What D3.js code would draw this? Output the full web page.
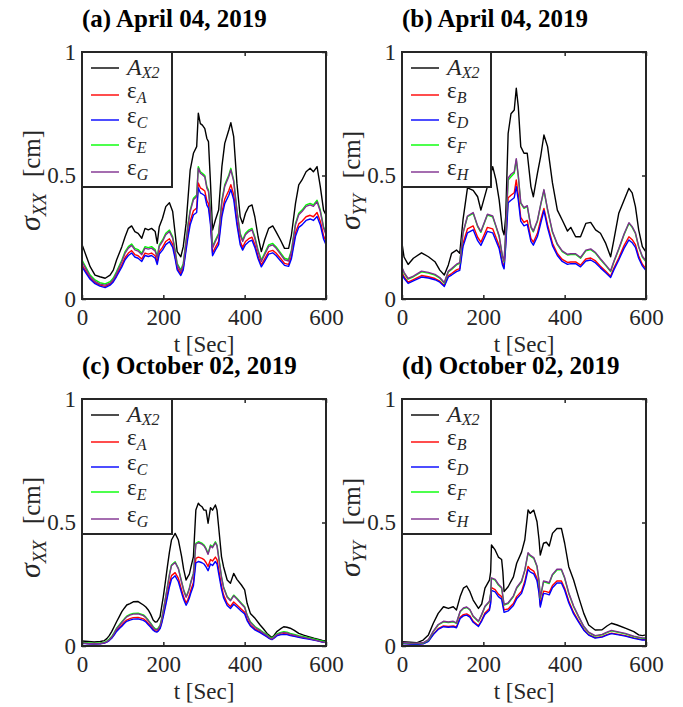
<!DOCTYPE html>
<html>
<head>
<meta charset="utf-8">
<script src="https://cdn.jsdelivr.net/npm/d3@7"></script>
<style>
  body { margin: 0; background: #fff; }
  svg { display: block; }
  text { font-family: "Liberation Serif", "Times New Roman", Times, serif; }
</style>
</head>
<body>
<svg id="fig" width="683" height="707"></svg>
<script>
// ---------- shared axis ticks ----------
const xTicks = [0, 200, 400, 600];
const yTicks = [0, 0.5, 1];
const yTickLabels = ["0", "0.5", "1"];

// ---------- (a) April 04, 2019 — sigma_XX ----------
const tA = [0, 2, 11, 20, 32, 44, 57, 69, 77, 85, 98, 106, 114, 122, 130, 138, 147, 155, 163, 171,
  180, 185, 190, 198, 206, 215, 223, 229, 234, 243, 249, 256, 261, 266, 274, 282, 286, 291, 296, 302,
  307, 311, 316, 321, 328, 336, 344, 351, 361, 366, 373, 381, 389, 395, 402, 410, 418, 425, 433, 441,
  449, 459, 469, 477, 488, 498, 508, 515, 525, 533, 541, 551, 561, 569, 578, 586, 594, 600];
const aAX2 = [0.22, 0.212, 0.171, 0.131, 0.097, 0.090, 0.084, 0.097, 0.117, 0.158,
  0.212, 0.252, 0.286, 0.296, 0.273, 0.266, 0.246, 0.286, 0.280, 0.286,
  0.273, 0.225, 0.293, 0.327, 0.374, 0.390, 0.354, 0.266, 0.192, 0.171,
  0.212, 0.306, 0.414, 0.522, 0.590, 0.617, 0.752, 0.71, 0.704, 0.69,
  0.65, 0.637, 0.468, 0.279, 0.32, 0.36, 0.536, 0.630, 0.684, 0.714,
  0.657, 0.468, 0.333, 0.306, 0.347, 0.374, 0.381, 0.333, 0.252, 0.192,
  0.239, 0.286, 0.296, 0.273, 0.239, 0.205, 0.205, 0.259, 0.387, 0.462,
  0.482, 0.515, 0.529, 0.515, 0.536, 0.455, 0.360, 0.340];
const aEpsA = [0.14, 0.132, 0.108, 0.085, 0.066, 0.056, 0.051, 0.06, 0.074, 0.097,
  0.138, 0.168, 0.186, 0.196, 0.18, 0.175, 0.162, 0.186, 0.182, 0.186,
  0.175, 0.15, 0.192, 0.209, 0.233, 0.244, 0.221, 0.173, 0.126, 0.102,
  0.126, 0.209, 0.268, 0.315, 0.357, 0.368, 0.47, 0.45, 0.445, 0.437,
  0.398, 0.386, 0.315, 0.186, 0.209, 0.233, 0.35, 0.404, 0.439, 0.463,
  0.422, 0.315, 0.233, 0.209, 0.233, 0.244, 0.25, 0.221, 0.173, 0.138,
  0.162, 0.192, 0.197, 0.186, 0.165, 0.144, 0.14, 0.173, 0.268, 0.304,
  0.315, 0.333, 0.339, 0.333, 0.35, 0.315, 0.256, 0.233];
const aEpsC = [0.133, 0.125, 0.102, 0.08, 0.062, 0.052, 0.046, 0.056, 0.069, 0.091,
  0.13, 0.159, 0.176, 0.186, 0.17, 0.165, 0.152, 0.176, 0.172, 0.176,
  0.165, 0.14, 0.182, 0.198, 0.22, 0.232, 0.209, 0.163, 0.118, 0.095,
  0.118, 0.198, 0.254, 0.3, 0.34, 0.35, 0.45, 0.43, 0.425, 0.418,
  0.38, 0.368, 0.3, 0.175, 0.198, 0.22, 0.334, 0.386, 0.42, 0.443,
  0.403, 0.3, 0.22, 0.198, 0.22, 0.232, 0.238, 0.209, 0.163, 0.13,
  0.152, 0.182, 0.187, 0.176, 0.155, 0.136, 0.132, 0.163, 0.254, 0.29,
  0.3, 0.318, 0.324, 0.318, 0.334, 0.3, 0.243, 0.22];
const aEpsE = [0.16, 0.151, 0.124, 0.097, 0.077, 0.066, 0.061, 0.07, 0.085, 0.111,
  0.158, 0.192, 0.212, 0.223, 0.205, 0.20, 0.185, 0.212, 0.208, 0.212,
  0.20, 0.171, 0.219, 0.239, 0.266, 0.279, 0.252, 0.198, 0.144, 0.117,
  0.144, 0.239, 0.306, 0.36, 0.408, 0.421, 0.536, 0.515, 0.509, 0.50,
  0.455, 0.441, 0.36, 0.212, 0.239, 0.266, 0.40, 0.462, 0.502, 0.529,
  0.482, 0.36, 0.266, 0.239, 0.266, 0.279, 0.286, 0.252, 0.198, 0.158,
  0.185, 0.219, 0.225, 0.212, 0.188, 0.165, 0.16, 0.198, 0.306, 0.347,
  0.36, 0.381, 0.387, 0.381, 0.40, 0.36, 0.293, 0.266];
const aEpsG = [0.154, 0.145, 0.118, 0.091, 0.071, 0.06, 0.056, 0.064, 0.079, 0.105,
  0.152, 0.186, 0.206, 0.217, 0.199, 0.194, 0.179, 0.206, 0.202, 0.206,
  0.194, 0.165, 0.213, 0.233, 0.26, 0.273, 0.246, 0.192, 0.138, 0.111,
  0.138, 0.233, 0.3, 0.354, 0.402, 0.415, 0.53, 0.509, 0.503, 0.494,
  0.449, 0.435, 0.354, 0.206, 0.233, 0.26, 0.394, 0.456, 0.496, 0.523,
  0.476, 0.354, 0.26, 0.233, 0.26, 0.273, 0.28, 0.246, 0.192, 0.152,
  0.179, 0.213, 0.219, 0.206, 0.182, 0.159, 0.154, 0.192, 0.3, 0.341,
  0.354, 0.375, 0.381, 0.375, 0.394, 0.354, 0.287, 0.26];

// ---------- (b) April 04, 2019 — sigma_YY ----------
const tB = [0, 5, 15, 28, 48, 65, 81, 93, 104, 114, 122, 134, 142, 150, 161, 175, 186, 194, 210, 223,
  231, 239, 247, 251, 255, 261, 268, 276, 281, 286, 292, 300, 308, 317, 323, 333, 341, 349, 358, 370,
  382, 394, 407, 415, 427, 439, 452, 464, 476, 488, 501, 513, 521, 533, 546, 558, 566, 574, 582, 591, 600];
const bAX2 = [0.225, 0.17, 0.14, 0.165, 0.187, 0.171, 0.151, 0.117, 0.097, 0.138,
  0.185, 0.198, 0.185, 0.32, 0.45, 0.44, 0.414, 0.36, 0.455, 0.536,
  0.482, 0.40, 0.28, 0.26, 0.333, 0.67, 0.75, 0.765, 0.853, 0.778,
  0.617, 0.59, 0.59, 0.455, 0.414, 0.509, 0.577, 0.664, 0.617, 0.47,
  0.36, 0.32, 0.275, 0.29, 0.252, 0.252, 0.306, 0.31, 0.28, 0.266,
  0.225, 0.171, 0.239, 0.347, 0.40, 0.448, 0.43, 0.374, 0.28, 0.212, 0.19];
const bEpsB = [0.108, 0.09, 0.068, 0.078, 0.095, 0.09, 0.083, 0.072, 0.055, 0.095,
  0.103, 0.118, 0.123, 0.225, 0.284, 0.296, 0.25, 0.23, 0.29, 0.284,
  0.25, 0.215, 0.146, 0.13, 0.226, 0.41, 0.42, 0.43, 0.482, 0.42,
  0.33, 0.31, 0.318, 0.245, 0.23, 0.266, 0.32, 0.367, 0.3, 0.226,
  0.184, 0.16, 0.148, 0.15, 0.15, 0.137, 0.162, 0.166, 0.154, 0.133,
  0.112, 0.092, 0.125, 0.166, 0.216, 0.252, 0.24, 0.22, 0.174, 0.141, 0.122];
const bEpsD = [0.1, 0.084, 0.063, 0.073, 0.089, 0.085, 0.078, 0.068, 0.051, 0.089,
  0.097, 0.111, 0.116, 0.212, 0.268, 0.28, 0.236, 0.217, 0.274, 0.268,
  0.236, 0.203, 0.138, 0.122, 0.213, 0.39, 0.4, 0.41, 0.455, 0.4,
  0.315, 0.296, 0.302, 0.233, 0.218, 0.253, 0.305, 0.358, 0.288, 0.216,
  0.176, 0.152, 0.14, 0.143, 0.143, 0.13, 0.154, 0.158, 0.146, 0.126,
  0.106, 0.087, 0.118, 0.158, 0.205, 0.239, 0.228, 0.209, 0.165, 0.134, 0.115];
const bEpsF = [0.125, 0.105, 0.08, 0.09, 0.11, 0.105, 0.097, 0.084, 0.064, 0.11,
  0.12, 0.138, 0.144, 0.266, 0.333, 0.347, 0.293, 0.27, 0.34, 0.333,
  0.293, 0.252, 0.171, 0.151, 0.266, 0.482, 0.495, 0.509, 0.563, 0.495,
  0.387, 0.367, 0.375, 0.29, 0.272, 0.315, 0.38, 0.44, 0.36, 0.27,
  0.22, 0.192, 0.178, 0.18, 0.18, 0.165, 0.195, 0.2, 0.185, 0.16,
  0.135, 0.111, 0.15, 0.2, 0.26, 0.306, 0.29, 0.265, 0.21, 0.17, 0.151];
const bEpsH = [0.128, 0.108, 0.083, 0.093, 0.113, 0.108, 0.1, 0.087, 0.067, 0.113,
  0.123, 0.141, 0.147, 0.268, 0.336, 0.35, 0.296, 0.273, 0.343, 0.336,
  0.296, 0.255, 0.174, 0.154, 0.27, 0.49, 0.505, 0.515, 0.568, 0.5,
  0.39, 0.37, 0.378, 0.293, 0.275, 0.318, 0.383, 0.443, 0.363, 0.273,
  0.223, 0.195, 0.181, 0.183, 0.183, 0.168, 0.198, 0.203, 0.188, 0.163,
  0.138, 0.114, 0.153, 0.203, 0.263, 0.309, 0.293, 0.268, 0.213, 0.173, 0.154];

// ---------- (c) October 02, 2019 — sigma_XX ----------
const tC = [0, 15, 30, 45, 55, 61, 67, 73, 79, 85, 92, 98, 104, 110, 118, 126, 138, 151, 157, 163,
  169, 175, 180, 184, 188, 192, 196, 200, 205, 210, 215, 220, 229, 237, 245, 250, 256, 260, 264, 268,
  274, 280, 286, 290, 295, 300, 305, 310, 316, 321, 328, 332, 336, 343, 348, 357, 365, 373, 381, 392,
  400, 406, 414, 426, 438, 446, 455, 461, 467, 473, 479, 487, 496, 504, 512, 522, 533, 545, 557, 570,
  582, 591, 600];
const cAX2 = [0.02, 0.018, 0.016, 0.018, 0.022, 0.03, 0.042, 0.058, 0.078, 0.098,
  0.12, 0.139, 0.153, 0.166, 0.172, 0.179, 0.18, 0.166, 0.158, 0.146,
  0.128, 0.105, 0.097, 0.098, 0.108, 0.119, 0.16, 0.2, 0.26, 0.321,
  0.38, 0.429, 0.456, 0.429, 0.362, 0.31, 0.267, 0.28, 0.291, 0.32,
  0.362, 0.551, 0.578, 0.57, 0.564, 0.55, 0.55, 0.497, 0.56, 0.55,
  0.571, 0.55, 0.483, 0.362, 0.321, 0.267, 0.254, 0.294, 0.27, 0.247,
  0.227, 0.173, 0.132, 0.111, 0.085, 0.07, 0.051, 0.042, 0.034, 0.045,
  0.058, 0.068, 0.078, 0.076, 0.072, 0.063, 0.051, 0.044, 0.038, 0.032,
  0.027, 0.023, 0.02];
const cEpsA = [0.012, 0.01, 0.009, 0.01, 0.013, 0.017, 0.024, 0.033, 0.047, 0.063,
  0.075, 0.085, 0.096, 0.105, 0.111, 0.115, 0.116, 0.11, 0.102, 0.091,
  0.08, 0.068, 0.061, 0.059, 0.064, 0.074, 0.097, 0.127, 0.167, 0.209,
  0.252, 0.285, 0.297, 0.274, 0.226, 0.198, 0.174, 0.187, 0.204, 0.228,
  0.257, 0.355, 0.36, 0.358, 0.355, 0.35, 0.338, 0.322, 0.35, 0.344,
  0.36, 0.35, 0.31, 0.242, 0.207, 0.173, 0.16, 0.178, 0.166, 0.149,
  0.137, 0.109, 0.085, 0.068, 0.057, 0.048, 0.039, 0.032, 0.027, 0.035,
  0.043, 0.047, 0.05, 0.049, 0.044, 0.041, 0.037, 0.033, 0.03, 0.025,
  0.021, 0.017, 0.015];
const cEpsC = [0.011, 0.009, 0.008, 0.009, 0.012, 0.016, 0.022, 0.031, 0.044, 0.059,
  0.071, 0.08, 0.091, 0.1, 0.105, 0.109, 0.11, 0.104, 0.097, 0.086,
  0.076, 0.064, 0.058, 0.056, 0.061, 0.07, 0.092, 0.12, 0.158, 0.198,
  0.239, 0.27, 0.284, 0.26, 0.214, 0.188, 0.165, 0.177, 0.194, 0.216,
  0.244, 0.337, 0.342, 0.34, 0.337, 0.332, 0.32, 0.305, 0.332, 0.326,
  0.342, 0.332, 0.294, 0.23, 0.196, 0.164, 0.152, 0.169, 0.158, 0.141,
  0.13, 0.103, 0.081, 0.064, 0.054, 0.046, 0.037, 0.03, 0.026, 0.033,
  0.041, 0.045, 0.047, 0.046, 0.042, 0.039, 0.035, 0.031, 0.028, 0.024,
  0.02, 0.016, 0.014];
const cEpsE = [0.014, 0.012, 0.01, 0.012, 0.015, 0.02, 0.028, 0.038, 0.054, 0.072,
  0.086, 0.098, 0.11, 0.121, 0.128, 0.132, 0.133, 0.126, 0.117, 0.105,
  0.092, 0.078, 0.07, 0.068, 0.074, 0.085, 0.112, 0.146, 0.192, 0.24,
  0.29, 0.328, 0.341, 0.315, 0.26, 0.228, 0.2, 0.215, 0.235, 0.262,
  0.295, 0.416, 0.422, 0.42, 0.416, 0.409, 0.395, 0.375, 0.409, 0.402,
  0.422, 0.409, 0.362, 0.281, 0.24, 0.2, 0.186, 0.206, 0.193, 0.173,
  0.159, 0.126, 0.098, 0.078, 0.065, 0.055, 0.045, 0.037, 0.031, 0.04,
  0.049, 0.054, 0.058, 0.056, 0.051, 0.047, 0.042, 0.038, 0.034, 0.029,
  0.024, 0.02, 0.017];
const cEpsG = [0.012, 0.01, 0.009, 0.01, 0.013, 0.018, 0.025, 0.035, 0.051, 0.069,
  0.083, 0.095, 0.107, 0.118, 0.125, 0.129, 0.13, 0.123, 0.114, 0.102,
  0.089, 0.075, 0.067, 0.065, 0.071, 0.082, 0.109, 0.143, 0.189, 0.237,
  0.287, 0.325, 0.338, 0.312, 0.257, 0.225, 0.197, 0.212, 0.232, 0.259,
  0.292, 0.412, 0.418, 0.416, 0.412, 0.405, 0.391, 0.371, 0.405, 0.398,
  0.418, 0.405, 0.358, 0.278, 0.237, 0.197, 0.183, 0.203, 0.19, 0.17,
  0.156, 0.123, 0.095, 0.075, 0.062, 0.052, 0.042, 0.034, 0.028, 0.037,
  0.046, 0.051, 0.055, 0.053, 0.048, 0.044, 0.039, 0.035, 0.031, 0.026,
  0.021, 0.017, 0.014];

// ---------- (d) October 02, 2019 — sigma_YY ----------
const tD = [0, 20, 36, 52, 65, 77, 89, 102, 114, 126, 134, 143, 151, 159, 167, 175, 188, 196, 204, 215,
  218, 220, 229, 237, 245, 248, 251, 261, 274, 282, 294, 302, 310, 315, 324, 332, 337, 340, 348, 355,
  362, 370, 381, 392, 400, 410, 422, 434, 447, 459, 475, 492, 504, 515, 529, 549, 570, 582, 591, 600];
const dAX2 = [0.017, 0.015, 0.013, 0.024, 0.045, 0.092, 0.132, 0.159, 0.152, 0.159,
  0.146, 0.2, 0.234, 0.243, 0.22, 0.186, 0.152, 0.17, 0.234, 0.267,
  0.3, 0.409, 0.389, 0.36, 0.35, 0.3, 0.22, 0.24, 0.28, 0.335,
  0.38, 0.43, 0.551, 0.537, 0.55, 0.503, 0.43, 0.368, 0.416, 0.42,
  0.405, 0.456, 0.476, 0.476, 0.416, 0.321, 0.267, 0.2, 0.132, 0.085,
  0.065, 0.066, 0.081, 0.092, 0.085, 0.072, 0.058, 0.045, 0.042, 0.045];
const dEpsB = [0.011, 0.009, 0.008, 0.01, 0.02, 0.048, 0.07, 0.081, 0.079, 0.081,
  0.077, 0.116, 0.127, 0.13, 0.122, 0.1, 0.082, 0.105, 0.134, 0.152,
  0.18, 0.236, 0.228, 0.21, 0.2, 0.172, 0.146, 0.15, 0.172, 0.2,
  0.222, 0.262, 0.322, 0.312, 0.303, 0.274, 0.222, 0.165, 0.222, 0.22,
  0.216, 0.245, 0.263, 0.263, 0.234, 0.182, 0.136, 0.102, 0.067, 0.046,
  0.034, 0.038, 0.046, 0.052, 0.048, 0.042, 0.033, 0.029, 0.026, 0.026];
const dEpsD = [0.01, 0.008, 0.007, 0.009, 0.019, 0.046, 0.067, 0.078, 0.076, 0.078,
  0.074, 0.111, 0.122, 0.125, 0.117, 0.096, 0.079, 0.101, 0.128, 0.145,
  0.172, 0.225, 0.219, 0.2, 0.19, 0.162, 0.136, 0.142, 0.164, 0.191,
  0.213, 0.252, 0.31, 0.3, 0.292, 0.264, 0.213, 0.158, 0.213, 0.211,
  0.207, 0.236, 0.255, 0.255, 0.226, 0.175, 0.13, 0.098, 0.064, 0.044,
  0.032, 0.036, 0.044, 0.05, 0.046, 0.04, 0.031, 0.027, 0.024, 0.024];
const dEpsF = [0.013, 0.011, 0.01, 0.012, 0.024, 0.058, 0.085, 0.098, 0.095, 0.098,
  0.092, 0.139, 0.152, 0.156, 0.146, 0.119, 0.098, 0.126, 0.159, 0.179,
  0.21, 0.274, 0.267, 0.247, 0.234, 0.2, 0.166, 0.172, 0.2, 0.234,
  0.26, 0.305, 0.375, 0.365, 0.355, 0.321, 0.26, 0.193, 0.26, 0.257,
  0.253, 0.287, 0.308, 0.308, 0.274, 0.213, 0.159, 0.119, 0.078, 0.054,
  0.04, 0.045, 0.054, 0.061, 0.056, 0.049, 0.038, 0.034, 0.031, 0.031];
const dEpsH = [0.014, 0.012, 0.011, 0.013, 0.026, 0.06, 0.087, 0.1, 0.097, 0.1,
  0.094, 0.141, 0.154, 0.158, 0.148, 0.121, 0.1, 0.128, 0.161, 0.181,
  0.212, 0.276, 0.27, 0.25, 0.237, 0.202, 0.168, 0.175, 0.203, 0.237,
  0.263, 0.308, 0.378, 0.368, 0.358, 0.324, 0.263, 0.196, 0.263, 0.26,
  0.256, 0.29, 0.311, 0.311, 0.277, 0.216, 0.162, 0.121, 0.08, 0.056,
  0.042, 0.047, 0.056, 0.063, 0.058, 0.051, 0.04, 0.036, 0.033, 0.033];

// ---------- styling ----------
const AXIS_COLOR = "#262626";
const FONT = "'Liberation Serif', 'Times New Roman', Times, serif";
const colors = { ref: "#000000", red: "#ff0000", blue: "#0000ff", green: "#00ff00", purple: "#7e2f8e" };

function seriesSet(ref, s1, s2, s3, s4, subs) {
  return [
    { sym: "A", sub: "X2", values: ref, color: colors.ref },
    { sym: "\u03b5", sub: subs[0], values: s1, color: colors.red },
    { sym: "\u03b5", sub: subs[1], values: s2, color: colors.blue },
    { sym: "\u03b5", sub: subs[2], values: s3, color: colors.green },
    { sym: "\u03b5", sub: subs[3], values: s4, color: colors.purple }
  ];
}

const panels = [
  { key: "a", title: "(a) April 04, 2019", left: 82, top: 52, w: 244, h: 247, legW: 90, ysub: "XX",
    t: tA, series: seriesSet(aAX2, aEpsA, aEpsC, aEpsE, aEpsG, ["A", "C", "E", "G"]) },
  { key: "b", title: "(b) April 04, 2019", left: 402, top: 52, w: 244, h: 247, legW: 89, ysub: "YY",
    t: tB, series: seriesSet(bAX2, bEpsB, bEpsD, bEpsF, bEpsH, ["B", "D", "F", "H"]) },
  { key: "c", title: "(c) October 02, 2019", left: 82, top: 399, w: 244, h: 247, legW: 90, ysub: "XX",
    t: tC, series: seriesSet(cAX2, cEpsA, cEpsC, cEpsE, cEpsG, ["A", "C", "E", "G"]) },
  { key: "d", title: "(d) October 02, 2019", left: 402, top: 399, w: 244, h: 247, legW: 89, ysub: "YY",
    t: tD, series: seriesSet(dAX2, dEpsB, dEpsD, dEpsF, dEpsH, ["B", "D", "F", "H"]) }
];

const svg = d3.select("#fig");
const TICK_FONT = 23;

function styleAxis(sel) {
  sel.attr("font-family", null).attr("font-size", null);
  sel.select(".domain").remove();
  sel.selectAll(".tick line").attr("stroke", AXIS_COLOR).attr("stroke-width", 1.5);
  sel.selectAll(".tick text")
    .attr("fill", AXIS_COLOR)
    .style("font-size", TICK_FONT + "px")
    .style("font-family", FONT);
}

panels.forEach(p => {
  const g = svg.append("g").attr("transform", `translate(${p.left},${p.top})`);
  const x = d3.scaleLinear().domain([0, 600]).range([0, p.w]);
  const y = d3.scaleLinear().domain([0, 1]).range([p.h, 0]);

  // clip for the data lines
  const clipId = "clip-" + p.key;
  g.append("clipPath").attr("id", clipId)
    .append("rect").attr("width", p.w).attr("height", p.h);

  const line = d3.line()
    .x((d, i) => x(p.t[i]))
    .y(d => y(d));

  const lines = g.append("g").attr("clip-path", `url(#${clipId})`);
  p.series.forEach(s => {
    lines.append("path")
      .datum(s.values)
      .attr("d", line)
      .attr("fill", "none")
      .attr("stroke", s.color)
      .attr("stroke-width", 1.4)
      .attr("stroke-linejoin", "round");
  });

  // axes: ticks pointing inward on all four sides
  g.append("g").attr("transform", `translate(0,${p.h})`)
    .call(d3.axisBottom(x).tickValues(xTicks).tickSizeInner(-4).tickSizeOuter(0)
      .tickPadding(10).tickFormat(d3.format("d")))
    .call(styleAxis);
  g.append("g")
    .call(d3.axisTop(x).tickValues(xTicks).tickSizeInner(-4).tickSizeOuter(0).tickFormat(""))
    .call(styleAxis);
  g.append("g")
    .call(d3.axisLeft(y).tickValues(yTicks).tickSizeInner(-4).tickSizeOuter(0)
      .tickPadding(6).tickFormat((d, i) => yTickLabels[i]))
    .call(styleAxis);
  g.append("g").attr("transform", `translate(${p.w},0)`)
    .call(d3.axisRight(y).tickValues(yTicks).tickSizeInner(-4).tickSizeOuter(0).tickFormat(""))
    .call(styleAxis);

  // axes box
  g.append("rect")
    .attr("width", p.w).attr("height", p.h)
    .attr("fill", "none").attr("stroke", AXIS_COLOR).attr("stroke-width", 2);

  // title
  svg.append("text")
    .attr("x", p.left).attr("y", p.top - 25)
    .attr("font-size", 25).attr("font-weight", "bold").attr("fill", "#000")
    .text(p.title);

  // x label
  svg.append("text")
    .attr("x", p.left + p.w / 2).attr("y", p.top + p.h + 53)
    .attr("text-anchor", "middle").attr("font-size", TICK_FONT).attr("fill", AXIS_COLOR)
    .text("t [Sec]");

  // y label: sigma with italic subscript, then unit
  const yl = svg.append("text")
    .attr("transform", `translate(${p.left - 42},${p.top + p.h / 2 + 5}) rotate(-90)`)
    .attr("text-anchor", "middle").attr("font-size", 25).attr("fill", AXIS_COLOR);
  yl.append("tspan").attr("font-style", "italic").attr("font-size", 30).text("\u03c3");
  yl.append("tspan").attr("font-style", "italic").attr("font-size", 19).attr("dy", 6).text(p.ysub);
  yl.append("tspan").attr("dy", -6).attr("dx", 16).text("[cm]");

  // legend
  const rowY = [16, 43, 68, 93, 120];
  const leg = g.append("g");
  leg.append("rect")
    .attr("width", p.legW).attr("height", 135)
    .attr("fill", "#fff").attr("stroke", AXIS_COLOR).attr("stroke-width", 2);
  p.series.forEach((s, i) => {
    const ry = rowY[i];
    const isRef = s.sym === "A";
    leg.append("line")
      .attr("x1", 9).attr("x2", 37).attr("y1", ry).attr("y2", ry)
      .attr("stroke", s.color).attr("stroke-width", 1.4);
    const tx = leg.append("text")
      .attr("x", 45).attr("y", ry + (isRef ? 7 : 3))
      .attr("font-size", isRef ? 24 : 23).attr("fill", AXIS_COLOR);
    tx.append("tspan").attr("font-style", isRef ? "italic" : "normal").text(s.sym);
    tx.append("tspan").attr("font-style", "italic").attr("font-size", 16)
      .attr("dy", isRef ? 3 : 5).text(s.sub);
  });
});
</script>
</body>
</html>
